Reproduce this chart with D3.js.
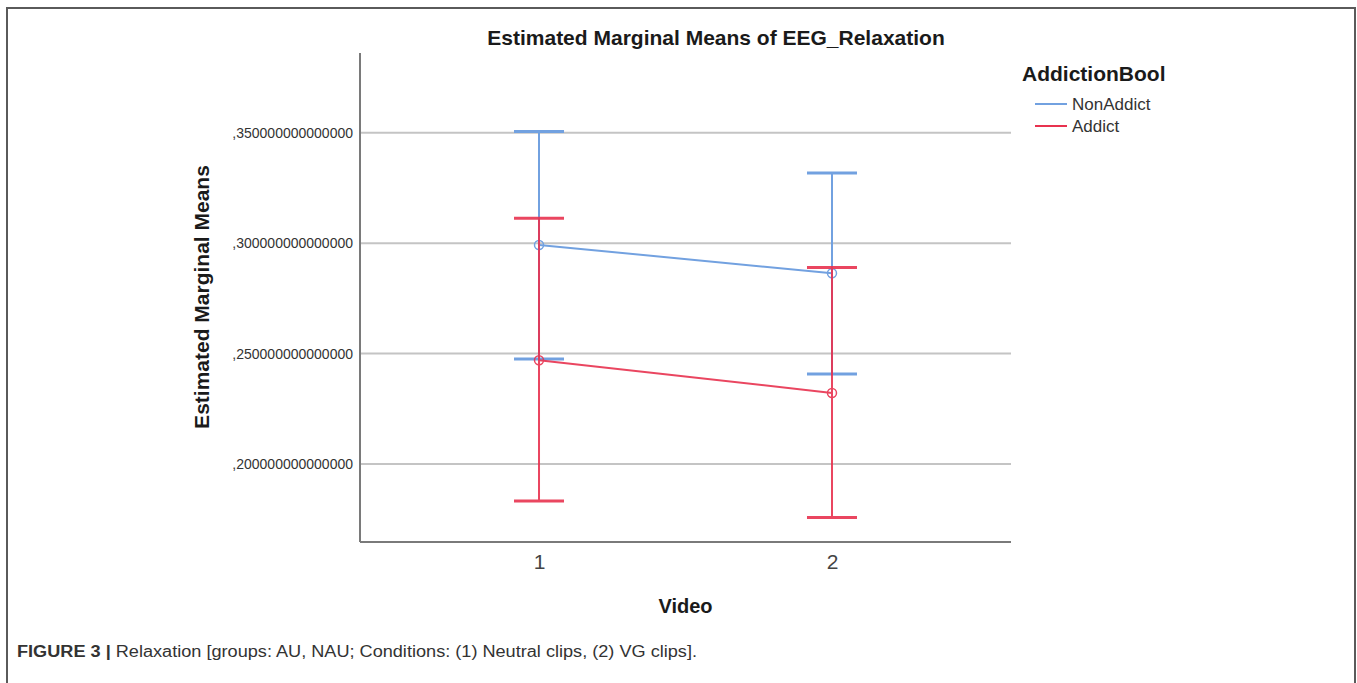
<!DOCTYPE html>
<html>
<head>
<meta charset="utf-8">
<script src="https://cdn.jsdelivr.net/npm/d3@7"></script>
<style>
    body { margin: 0; background: #fff; }
    svg { display: block; font-family: "Liberation Sans", Arial, sans-serif; }
</style>
</head>
<body>
<div id="chart"></div>
<script>
var videos = ["1", "2"];
var groups = ["NonAddict", "Addict"];
var groupColors = ["#72a1e0", "#e8324f"];
var nonAddictMean = [0.2992, 0.2864];
var nonAddictLower = [0.2476, 0.2408];
var nonAddictUpper = [0.3506, 0.3318];
var addictMean = [0.2470, 0.2322];
var addictLower = [0.1833, 0.1758];
var addictUpper = [0.3113, 0.2890];
var yTicks = [0.20, 0.25, 0.30, 0.35];

var width = 1357, height = 683;
var plotLeft = 360, plotRight = 1011, plotTop = 53, plotBottom = 542;

var svg = d3.select("#chart")
    .append("svg")
    .attr("width", width)
    .attr("height", height);

// frame round the figure, open at the bottom
svg.append("path")
    .attr("d", "M7,700 V8 H1355 V700")
    .style("fill", "none")
    .style("stroke", "#5a5a5a")
    .style("stroke-width", "2px");

var x = d3.scalePoint()
    .domain(videos)
    .range([plotLeft, plotRight])
    .padding(0.611);

var y = d3.scaleLinear()
    .domain([0.1647, 0.3861])
    .range([plotBottom, plotTop]);

// gridlines
svg.append("g")
    .selectAll("line")
    .data(yTicks)
    .join("line")
    .attr("x1", plotLeft)
    .attr("x2", plotRight)
    .attr("y1", d => y(d))
    .attr("y2", d => y(d))
    .style("stroke", "#c4c4c4")
    .style("stroke-width", "2px");

var yAxis = d3.axisLeft(y)
    .tickValues(yTicks)
    .tickSize(0)
    .tickPadding(7)
    .tickFormat(d => d3.format(".15f")(d).replace("0.", ","));

var gy = svg.append("g")
    .attr("transform", "translate(" + plotLeft + ",0)")
    .call(yAxis);

gy.select(".domain").remove();
gy.selectAll(".tick text")
    .style("font-family", "'Liberation Sans', Arial, sans-serif")
    .style("font-size", "14px")
    .style("fill", "#333");

var xAxis = d3.axisBottom(x)
    .tickSize(0)
    .tickPadding(12);

var gx = svg.append("g")
    .attr("transform", "translate(0," + plotBottom + ")")
    .call(xAxis);

gx.select(".domain").remove();
gx.selectAll(".tick text")
    .style("font-family", "'Liberation Sans', Arial, sans-serif")
    .style("font-size", "21px")
    .style("fill", "#444");

// axis lines
svg.append("line")
    .attr("x1", plotLeft).attr("x2", plotLeft)
    .attr("y1", plotTop).attr("y2", plotBottom)
    .style("stroke", "#7a7a7a")
    .style("stroke-width", "2px");

svg.append("line")
    .attr("x1", plotLeft).attr("x2", plotRight)
    .attr("y1", plotBottom).attr("y2", plotBottom)
    .style("stroke", "#7a7a7a")
    .style("stroke-width", "2px");

var series = [
    { name: groups[0], color: groupColors[0], mean: nonAddictMean, lower: nonAddictLower, upper: nonAddictUpper },
    { name: groups[1], color: groupColors[1], mean: addictMean, lower: addictLower, upper: addictUpper }
];

var capHalf = 25;

series.forEach(function (s) {
    var g = svg.append("g").style("opacity", s.name == "Addict" ? 0.9 : 1);
    var rows = videos.map((v, i) => ({ v: v, mean: s.mean[i], lo: s.lower[i], hi: s.upper[i] }));

    g.selectAll(".bar")
        .data(rows)
        .join("line")
        .attr("x1", d => x(d.v)).attr("x2", d => x(d.v))
        .attr("y1", d => y(d.hi)).attr("y2", d => y(d.lo))
        .style("stroke", s.color)
        .style("stroke-width", "2px");

    ["hi", "lo"].forEach(function (k) {
        g.selectAll(".cap-" + k)
            .data(rows)
            .join("line")
            .attr("x1", d => x(d.v) - capHalf).attr("x2", d => x(d.v) + capHalf)
            .attr("y1", d => y(d[k])).attr("y2", d => y(d[k]))
            .style("stroke", s.color)
            .style("stroke-width", "3px");
    });

    g.append("path")
        .datum(rows)
        .attr("d", d3.line().x(d => x(d.v)).y(d => y(d.mean)))
        .style("fill", "none")
        .style("stroke", s.color)
        .style("stroke-width", "2px");

    g.selectAll("circle")
        .data(rows)
        .join("circle")
        .attr("cx", d => x(d.v))
        .attr("cy", d => y(d.mean))
        .attr("r", 4.5)
        .style("fill", "none")
        .style("stroke", s.color)
        .style("stroke-width", "1.5px");
});

// titles
svg.append("text")
    .attr("x", 716)
    .attr("y", 45)
    .attr("text-anchor", "middle")
    .attr("font-weight", "bold")
    .style("font-size", "21px")
    .style("fill", "#1a1a1a")
    .text("Estimated Marginal Means of EEG_Relaxation");

svg.append("text")
    .attr("transform", "translate(209,297) rotate(-90)")
    .attr("text-anchor", "middle")
    .attr("font-weight", "bold")
    .style("font-size", "21px")
    .style("fill", "#1a1a1a")
    .text("Estimated Marginal Means");

svg.append("text")
    .attr("x", (plotLeft + plotRight) / 2)
    .attr("y", 613)
    .attr("text-anchor", "middle")
    .attr("font-weight", "bold")
    .style("font-size", "20px")
    .style("fill", "#1a1a1a")
    .text("Video");

// legend
var legend = svg.append("g");

legend.append("text")
    .attr("x", 1022)
    .attr("y", 81)
    .attr("font-weight", "bold")
    .style("font-size", "21px")
    .style("fill", "#1a1a1a")
    .text("AddictionBool");

series.forEach(function (s, i) {
    var ly = 104 + i * 22;
    legend.append("line")
        .attr("x1", 1035).attr("x2", 1067)
        .attr("y1", ly).attr("y2", ly)
        .style("stroke", s.color)
        .style("stroke-width", "2px");
    legend.append("text")
        .attr("x", 1072)
        .attr("y", ly + 6)
        .style("font-size", "17px")
        .style("fill", "#333")
        .text(s.name);
});

// caption
var caption = svg.append("text")
    .attr("x", 17)
    .attr("y", 657)
    .attr("textLength", 680)
    .attr("lengthAdjust", "spacingAndGlyphs")
    .style("font-size", "16px")
    .style("fill", "#333");

caption.append("tspan")
    .attr("font-weight", "bold")
    .text("FIGURE 3 |");

caption.append("tspan")
    .text(" Relaxation [groups: AU, NAU; Conditions: (1) Neutral clips, (2) VG clips].");
</script>
</body>
</html>
